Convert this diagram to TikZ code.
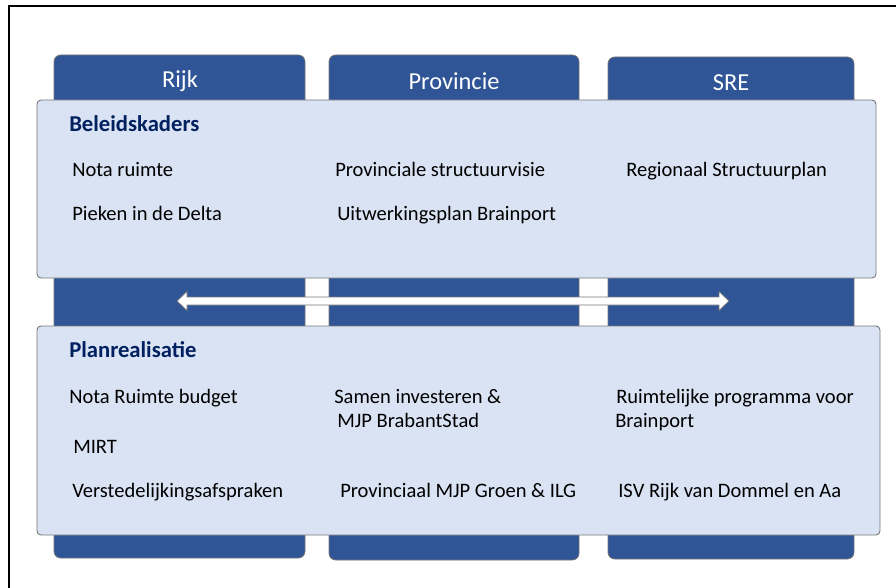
\documentclass[tikz,border=0pt]{standalone}
\usepackage{fontspec}
\setmainfont{Carlito}
\definecolor{orgblue}{RGB}{47, 85, 151}
\definecolor{panelfill}{RGB}{218, 227, 243}
\definecolor{panelline}{RGB}{120, 120, 120}
\definecolor{titlenavy}{RGB}{0, 32, 96}
\usetikzlibrary{positioning, calc}
\tikzset{
  column/.style={draw=panelline, fill=orgblue, rounded corners=5pt, line width=0.6pt},
  panel/.style={draw=panelline, fill=panelfill, rounded corners=3pt, line width=0.7pt},
  header/.style={text=white, font=\fontsize{18.3}{21}\selectfont, inner sep=0pt},
  paneltitle/.style={anchor=base west, inner sep=0pt, text=titlenavy, font=\fontsize{17}{20}\selectfont\bfseries},
  item/.style={anchor=base west, inner sep=0pt, font=\fontsize{15.4}{18}\selectfont, align=left}
}
\begin{document}
\begin{tikzpicture}[x=0.75pt, y=-0.75pt]
    \useasboundingbox (0,0) rectangle (896,588);
    % kader
    \draw[line width=0.9pt] (9,600) -- (9,6) -- (900,6);
    % kolommen
    \draw[column] (54,55) rectangle (305,558);
    \draw[column] (329,55) rectangle (579,560);
    \draw[column] (608,57) rectangle (854,559);
    \node[header] (rijk) at (180,81) {Rijk};
    \node[header] (prov) at (454,81) {Provincie};
    \node[header] (sre) at (731,83) {SRE};
    % pijl
    \coordinate (arL) at (177,301);
    \coordinate (arR) at (729,301);
    \draw[draw=panelline, fill=white, line width=0.6pt]
      (arL) -- ($(arL)+(10,-9.5)$) -- ($(arL)+(10,-4)$) -- ($(arR)+(-10,-4)$)
      -- ($(arR)+(-10,-9.5)$) -- (arR) -- ($(arR)+(-10,9.5)$) -- ($(arR)+(-10,4)$)
      -- ($(arL)+(10,4)$) -- ($(arL)+(10,9.5)$) -- cycle;
    % beleidskaders
    \draw[panel] (37,100) rectangle (876,278);
    \node[paneltitle] (bel) at (69,132) {Beleidskaders};
    \node[item] (nota) at (72,176) {Nota ruimte};
    \node[item] (pieken) at (72,220) {Pieken in de Delta};
    \node[item] (psv) at (335,176) {Provinciale structuurvisie};
    \node[item] (uwp) at (337,220) {Uitwerkingsplan Brainport};
    \node[item] (rsp) at (626,176) {Regionaal Structuurplan};
    % planrealisatie
    \draw[panel] (37,326) rectangle (880,535);
    \node[paneltitle] (plan) at (69,357) {Planrealisatie};
    \node[item] (nrb) at (69,403) {Nota Ruimte budget};
    \node[item] (mirt) at (73,453) {MIRT};
    \node[item] (vsa) at (72,497) {Verstedelijkingsafspraken};
    \node[item] (samen) at (334,403) {Samen investeren \&};
    \node[item] (mjp) at (337,427) {MJP BrabantStad};
    \node[item] (groen) at (340,497) {Provinciaal MJP Groen \& ILG};
    \node[item] (rpb) at (616,403) {Ruimtelijke programma voor};
    \node[item] (bport) at (615,427) {Brainport};
    \node[item] (isv) at (618,497) {ISV Rijk van Dommel en Aa};
\end{tikzpicture}
\end{document}
